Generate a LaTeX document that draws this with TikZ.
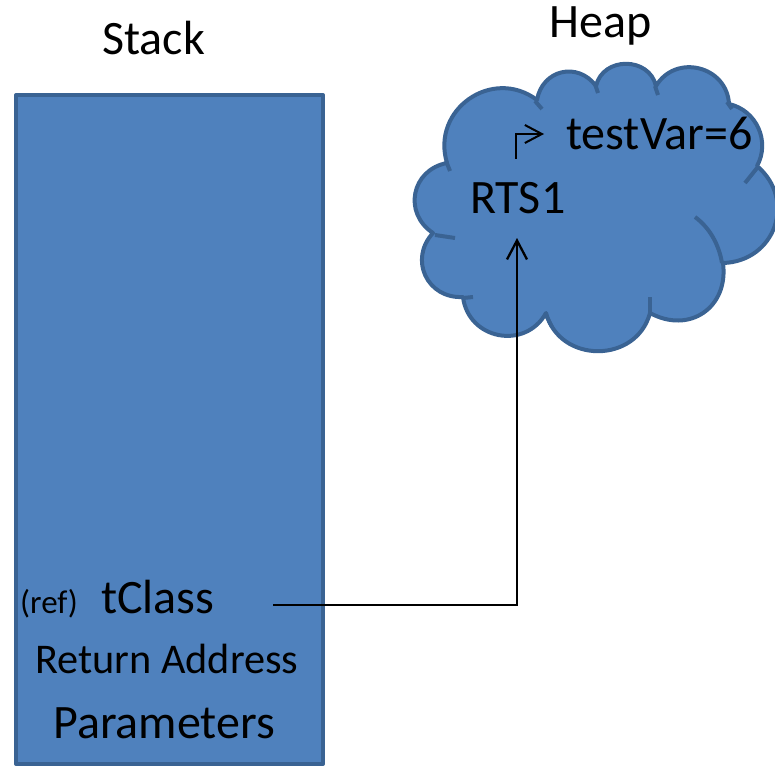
\documentclass[tikz,border=0pt]{standalone}
\usepackage{fontspec}
\setmainfont{Carlito}
\usetikzlibrary{arrows.meta}
\definecolor{boxfill}{HTML}{4F81BD}
\definecolor{boxline}{HTML}{3A6393}
\begin{document}
\begin{tikzpicture}[x=1pt,y=-1pt,
  shapesty/.style={fill=boxfill,draw=boxline,line width=4pt,line join=round},
  stubsty/.style={draw=boxline,line width=4pt,line cap=butt},
  bump/.style={bend left=#1,looseness=1.3},
  lbl/.style={anchor=base west,inner sep=0pt,font=\fontsize{48}{52}\selectfont},
  conn/.style={line width=2.3pt,draw=black},
  tip/.style={-{Straight Barb[length=19pt,width=20pt,line width=2.3pt]}}
]
\useasboundingbox (0,0) rectangle (775,767);
% stack
\path[shapesty] (16,95) rectangle (323,764);
% cloud
\path[shapesty] (447,163)
  to[bump=72] (537,100)
  to[bump=67] (596,86)
  to[bump=77] (656,86)
  to[bump=73] (729,104)
  to[bend left=53,looseness=1.06] (757,166)
  to[bump=69] (723,263)
  to[bump=63] (650,313)
  to[bump=75] (546,313)
  to[bump=72] (463,297)
  to[bump=68] (433,233)
  to[bump=68] (447,163) -- cycle;
\draw[stubsty] (446,161) -- (450,171);
\draw[stubsty] (535,101) -- (542,109);
\draw[stubsty] (595,84) -- (598,93);
\draw[stubsty] (655,86) -- (658,95);
\draw[stubsty] (727,102) -- (732,109);
\draw[stubsty] (745,183) -- (757,168);
\draw[stubsty] (695,217) .. controls (710,228) and (719,245) .. (722,263);
\draw[stubsty] (650,297) -- (650,313);
\draw[stubsty] (545,313) -- (552,327);
\draw[stubsty] (463,298) -- (473,297);
\draw[stubsty] (435,235) -- (455,238);
% labels
\node[lbl] (stack) at (102,55) {Stack};
\node[lbl] (heap) at (549,38) {Heap};
\node[lbl] (testvar) at (566,150) {testVar=6};
\node[lbl] (rts) at (470,213) {RTS1};
\node[lbl] (tclass) at (101,613) {tClass};
\node[anchor=base west,inner sep=0pt,font=\fontsize{33}{36}\selectfont] (ref) at (20,613) {(ref)};
\node[anchor=base west,inner sep=0pt,font=\fontsize{42.3}{46}\selectfont] (ret) at (35,673) {Return Address};
\node[lbl] (params) at (53,738) {Parameters};
% connectors
\coordinate (tstart) at (273,605);
\coordinate (tcorner) at (517,605);
\coordinate (rtsin) at (517,238);
\draw[conn,tip] (tstart) -- (tcorner) -- (rtsin);
\coordinate (sstart) at (516,159);
\coordinate (scorner) at (516,134);
\coordinate (send) at (544,134);
\draw[conn,line width=2pt,-{Straight Barb[length=17pt,width=18pt,line width=2pt]}] (sstart) -- (scorner) -- (send);
\end{tikzpicture}
\end{document}
